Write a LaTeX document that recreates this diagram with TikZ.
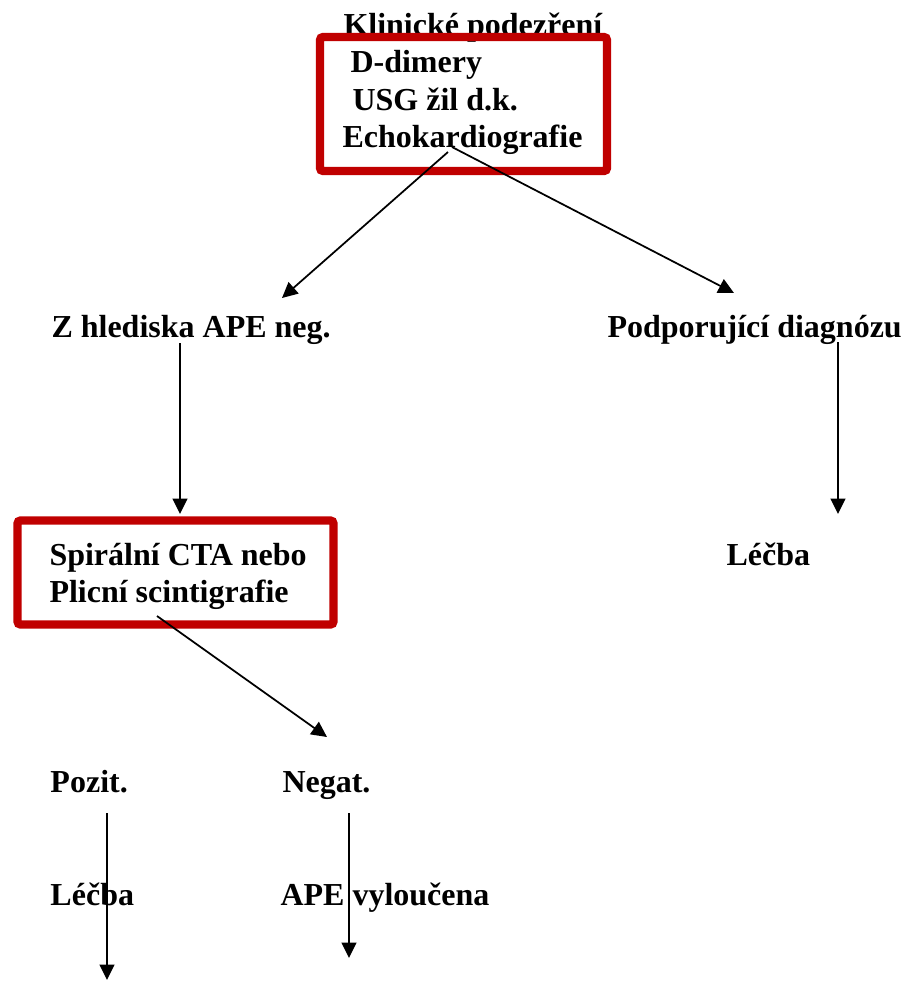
\documentclass[tikz,border=0pt]{standalone}
\usepackage{fontspec}
\setmainfont{Liberation Serif}
\usetikzlibrary{arrows.meta,positioning}
\definecolor{boxred}{HTML}{C00000}
\tikzstyle{txt} = [
	font=\fontsize{12.8pt}{14.8pt}\selectfont\bfseries,
	inner sep=0pt,
	anchor=base west
]
\tikzstyle{redbox} = [
	draw=boxred,
	line width=3.3pt,
	rounded corners=1.2pt
]
\tikzstyle{arr} = [-{Triangle[length=6.2pt,width=6pt]}, line width=0.7pt]
\begin{document}
\begin{tikzpicture}[x=0.4pt, y=-0.4pt]
	\useasboundingbox (0,0) rectangle (908,981);
	% upper block
	\node[txt] (klin) at (343,35) {Klinické podezření};
	\node[txt] (ddim) at (350,72) {D-dimery};
	\node[txt] (usg) at (352,110) {USG žil d.k.};
	\node[txt] (echo) at (342,147) {Echokardiografie};
	\node[redbox, minimum width=114.8pt, minimum height=53.6pt] (box1) at (463.5,104) {};
	
	\node[txt] (hled) at (51,337) {Z hlediska APE neg.};
	\node[txt] (podp) at (607,337) {Podporující diagnózu};
	
	% lower block
	\node[txt] (spir) at (49,565) {Spirální CTA nebo};
	\node[txt] (plic) at (49,602) {Plicní scintigrafie};
	\node[redbox, minimum width=126.4pt, minimum height=41.6pt] (box2) at (175.5,572.5) {};
	\node[txt] (lecbaR) at (726,565) {Léčba};
	
	\node[txt] (pozit) at (50,792) {Pozit.};
	\node[txt] (negat) at (282,792) {Negat.};
	\node[txt] (lecbaL) at (50,905) {Léčba};
	\node[txt] (apevyl) at (280,905) {APE vyloučena};
	
	% arrow ends
	\coordinate (echoL) at (448,152);
	\coordinate (echoR) at (452,147);
	\coordinate (hledIn) at (282,298);
	\coordinate (podpIn) at (734,293);
	\coordinate (hledOut) at (180,343);
	\coordinate (spirIn) at (180,514);
	\coordinate (podpOut) at (838,342);
	\coordinate (lecbaIn) at (838,514);
	\coordinate (plicOut) at (157,616);
	\coordinate (negatIn) at (327,737);
	\coordinate (pozitOut) at (107,813);
	\coordinate (pozitEnd) at (107,980);
	\coordinate (negatOut) at (349,813);
	\coordinate (negatEnd) at (349,958);
	
	\draw[arr] (echoL) -- (hledIn);
	\draw[arr] (echoR) -- (podpIn);
	\draw[arr] (hledOut) -- (spirIn);
	\draw[arr] (podpOut) -- (lecbaIn);
	\draw[arr] (plicOut) -- (negatIn);
	\draw[arr] (pozitOut) -- (pozitEnd);
	\draw[arr] (negatOut) -- (negatEnd);
\end{tikzpicture}
\end{document}
